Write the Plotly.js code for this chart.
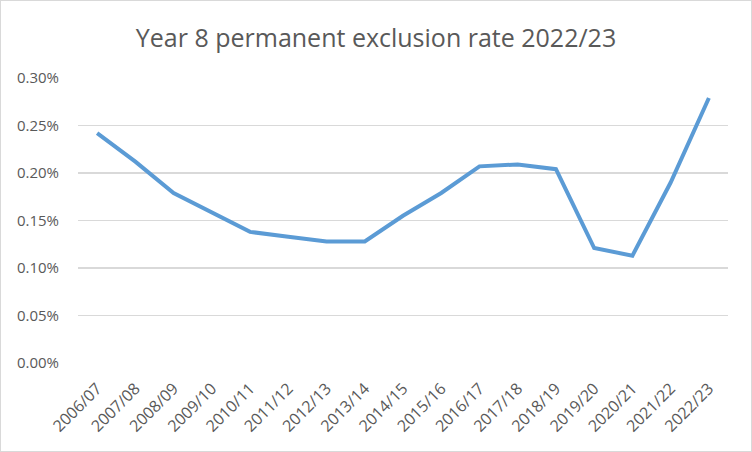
<!DOCTYPE html>
<html>
<head>
<meta charset="utf-8">
<script src="https://cdn.plot.ly/plotly-3.0.1.min.js"></script>
<style>
html,body{margin:0;padding:0;background:#fff;}
#chart{width:750px;height:450px;border:1px solid #d9d9d9;}
</style>
</head>
<body>
<div id="chart"></div>
<script>
const years = ["2006/07","2007/08","2008/09","2009/10","2010/11","2011/12","2012/13","2013/14","2014/15","2015/16","2016/17","2017/18","2018/19","2019/20","2020/21","2021/22","2022/23"];
const rates = [0.00242,0.00212,0.00179,0.00158,0.00138,0.00133,0.00128,0.00128,0.00155,0.00179,0.00207,0.00209,0.00204,0.00121,0.00113,0.00190,0.00279];
const yTicks = [0,0.0005,0.001,0.0015,0.002,0.0025,0.003];

Plotly.newPlot('chart', [{
  x: years, y: rates, type: 'scatter', mode: 'lines',
  line: {color: '#5B9BD5', width: 4, shape: 'linear'},
  hoverinfo: 'none'
}], {
  width: 750, height: 450,
  margin: {l: 77, r: 23, t: 77, b: 88},
  paper_bgcolor: '#fff', plot_bgcolor: '#fff',
  font: {family: 'Open Sans, sans-serif', color: '#595959'},
  title: {text: 'Year 8 permanent exclusion rate 2022/23', font: {size: 25, color: '#595959', family: 'Open Sans, sans-serif'}, x: 0.5, xanchor: 'center', y: 0.918, yanchor: 'middle'},
  xaxis: {type: 'category', range: [-0.5, 16.5], tickangle: -45, tickfont: {size: 16, color: '#595959'}, showgrid: false, zeroline: false, showline: false, ticks: 'outside', ticklen: 9, tickcolor: 'rgba(0,0,0,0)', automargin: false},
  yaxis: {range: [0, 0.003], tickvals: yTicks, tickformat: '.2%', tickfont: {size: 15, color: '#595959'}, gridcolor: '#d9d9d9', gridwidth: 1.3, zeroline: false, showline: false, ticks: 'outside', ticklen: 15, tickcolor: 'rgba(0,0,0,0)', automargin: false},
  showlegend: false
}, {displayModeBar: false, staticPlot: true});
</script>
</body>
</html>
